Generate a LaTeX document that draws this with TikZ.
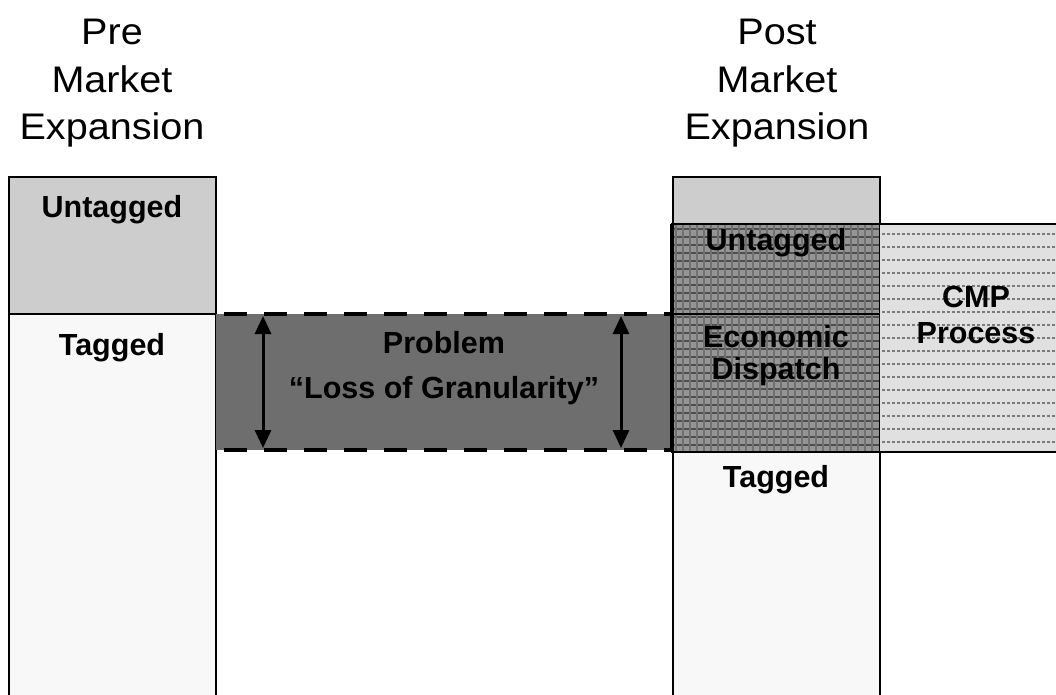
\documentclass[tikz,border=0pt]{standalone}
\usepackage{fontspec}
\setmainfont{Liberation Sans}
\newfontfamily\titlefont[FakeStretch=1.07]{Liberation Sans}
\usetikzlibrary{arrows.meta}
\definecolor{untagcol}{HTML}{CDCDCD}
\definecolor{tagcol}{HTML}{F8F8F8}
\definecolor{probcol}{HTML}{6E6E6E}
\definecolor{edcol}{HTML}{959595}
\definecolor{edline}{HTML}{4E4E4E}
\definecolor{cmpcol}{HTML}{E0E0E0}
\definecolor{cmpline}{HTML}{7A7A7A}
\begin{document}
\begin{tikzpicture}[x=1pt,y=-1pt,
  titletext/.style={anchor=base,inner sep=0pt,font=\titlefont\fontsize{37}{44}\selectfont},
  lbl/.style={anchor=base,inner sep=0pt,font=\bfseries\fontsize{30.5}{34}\selectfont},
  border/.style={draw=black,line width=2pt},
  dashborder/.style={draw=black,line width=4pt,dash pattern=on 23pt off 17pt,dash phase=-8pt},
  edgrid/.style={draw=edline,line width=1.8pt},
  cmpdots/.style={draw=cmpline,line width=1.8pt,dash pattern=on 2.5pt off 2.5pt},
  dblarrow/.style={draw=black,line width=3pt,{Triangle[length=18pt,width=16pt]}-{Triangle[length=18pt,width=16pt]}}
]
\useasboundingbox (0,0) rectangle (1056,694);

% ---------------- left bar (pre market expansion)
\fill[untagcol] (9,177) rectangle (216,314);
\fill[tagcol] (9,314) rectangle (216,700);
\draw[border] (9,700) -- (9,177) -- (216,177) -- (216,700);
\draw[border] (9,314) -- (216,314);

% ---------------- problem band
\fill[probcol] (216,314) rectangle (672,450);
\draw[dashborder] (216,314) -- (672,314);
\draw[dashborder] (216,450) -- (672,450);

% ---------------- right bar (post market expansion)
\fill[untagcol] (673,177) rectangle (880,224);
\fill[tagcol] (673,452) rectangle (880,700);
\fill[edcol] (671,224) rectangle (880,452);
\foreach \yy in {229,237,...,450} \draw[edgrid] (672,\yy) -- (879,\yy);
\foreach \xx in {676,683,...,878} \draw[edgrid,line width=1.3pt,draw=edline!80] (\xx,225) -- (\xx,451);
\draw[border] (673,700) -- (673,177) -- (880,177) -- (880,700);
\draw[border] (671,224) -- (880,224);
\draw[border] (671,452) -- (880,452);
\draw[border] (671,224) -- (671,452);
\draw[border] (671,314) -- (880,314);

% ---------------- CMP process region
\fill[cmpcol] (880,224) rectangle (1060,452);
\foreach \yy in {234,247,...,450} \draw[cmpdots] (882,\yy) -- (1058,\yy);
\draw[border] (880,224) -- (1060,224);
\draw[border] (880,452) -- (1060,452);

% ---------------- arrows
\coordinate (a1t) at (263,316);
\coordinate (a1b) at (263,448);
\coordinate (a2t) at (621,316);
\coordinate (a2b) at (621,448);
\draw[dblarrow] (a1t) -- (a1b);
\draw[dblarrow] (a2t) -- (a2b);

% ---------------- titles
\node[titletext] (pre1) at (112,44) {Pre};
\node[titletext] (pre2) at (112,92) {Market};
\node[titletext] (pre3) at (112,139) {Expansion};
\node[titletext] (post1) at (777,44) {Post};
\node[titletext] (post2) at (777,92) {Market};
\node[titletext] (post3) at (777,139) {Expansion};

% ---------------- labels
\node[lbl] (untagL) at (112,217) {Untagged};
\node[lbl] (tagL) at (112,355) {Tagged};
\node[lbl] (prob1) at (444,353) {Problem};
\node[lbl] (prob2) at (444,398) {“Loss of Granularity”};
\node[lbl] (untagR) at (776,250) {Untagged};
\node[lbl] (econ1) at (776,347) {Economic};
\node[lbl] (econ2) at (776,379) {Dispatch};
\node[lbl] (tagR) at (776,487) {Tagged};
\node[lbl] (cmp1) at (976,307) {CMP};
\node[lbl] (cmp2) at (976,343) {Process};
\end{tikzpicture}
\end{document}
